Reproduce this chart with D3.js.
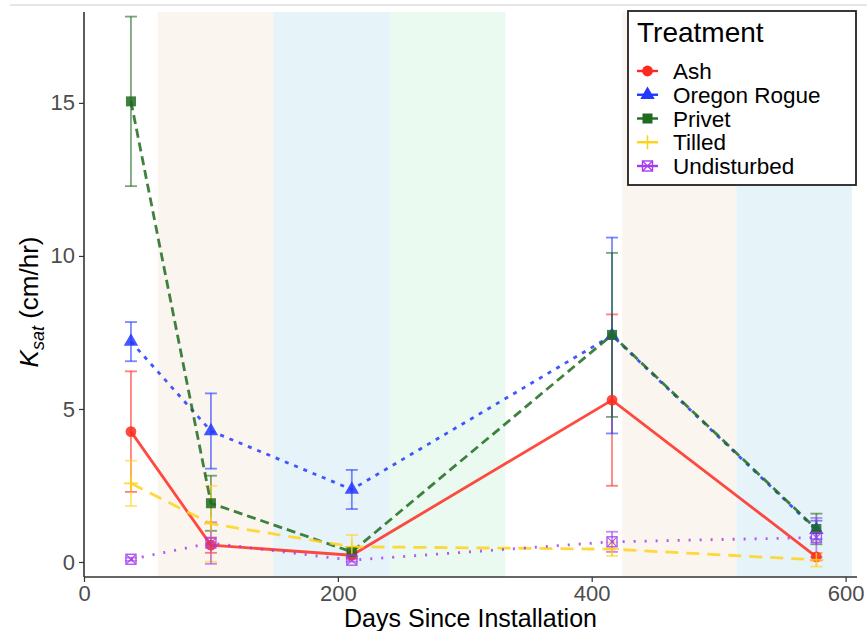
<!DOCTYPE html>
<html lang="en">
<head>
<meta charset="utf-8">
<title>Ksat by treatment</title>
<script src="https://d3js.org/d3.v7.min.js"></script>
<style>
  body { margin: 0; background: #fff; }
  svg { font-family: "Liberation Sans", Arial, sans-serif; }
</style>
</head>
<body>
<div id="chart"></div>
<script>
// sampling days
const days = [37, 100, 211, 416, 577];

// mean Ksat (cm/hr) and error half-widths, one array per treatment
const ashMean   = [4.26, 0.55, 0.22, 5.29, 0.17];
const ashErr    = [1.97, 0.25, 0.10, 2.80, 0.12];
const rogueMean = [7.20, 4.28, 2.37, 7.40, 1.05];
const rogueErr  = [0.64, 1.23, 0.64, 3.20, 0.30];
const privetMean = [15.05, 1.92, 0.33, 7.42, 1.08];
const privetErr  = [2.77, 0.90, 0.15, 2.68, 0.50];
const tilledMean = [2.57, 1.25, 0.50, 0.42, 0.07];
const tilledErr  = [0.74, 1.24, 0.38, 0.22, 0.22];
const undistMean = [0.09, 0.62, 0.06, 0.66, 0.80];
const undistErr  = [0.05, 0.68, 0.05, 0.33, 0.64];

// seasons shaded behind the data (start day, end day)
const seasonStart = [58, 149, 241, 424, 514];
const seasonEnd   = [149, 241, 332, 514, 605];
const seasonFill  = ["#fbf5f0", "#e6f4fa", "#eafaf0", "#fbf5f0", "#e6f4fa"];

const treatments = ["Ash", "Oregon Rogue", "Privet", "Tilled", "Undisturbed"];
const means = [ashMean, rogueMean, privetMean, tilledMean, undistMean];
const errs  = [ashErr, rogueErr, privetErr, tilledErr, undistErr];
const colors = ["#ff2a1f", "#2238ff", "#1f6b1f", "#ffd21a", "#a43cf0"];
const dashes = [null, "4,6", "9,5", "13,8", "2,9"];
const shapes = ["circle", "triangle", "square", "plus", "boxx"];

const xTicks = [0, 200, 400, 600];
const yTicks = [0, 5, 10, 15];

const width = 867, height = 631;
const svg = d3.select("#chart").append("svg")
    .attr("width", width).attr("height", height);

const x = d3.scaleLinear().domain([0, 609]).range([84, 857]);
const y = d3.scaleLinear().domain([-0.49, 17.97]).range([577, 12]);

// faint line at the very top
svg.append("line").attr("x1", 10).attr("x2", 867).attr("y1", 5).attr("y2", 5)
    .attr("stroke", "#e6e6e6").attr("stroke-width", 2);

svg.selectAll("rect.season")
    .data(seasonStart)
    .enter().append("rect")
    .attr("class", "season")
    .attr("x", d => x(d))
    .attr("y", y(17.97))
    .attr("width", (d, i) => x(seasonEnd[i]) - x(d))
    .attr("height", y(-0.49) - y(17.97))
    .attr("fill", (d, i) => seasonFill[i]);

// axes
const xAxis = svg.append("g").attr("transform", "translate(0," + y(-0.49) + ")")
    .call(d3.axisBottom(x).tickValues(xTicks).tickSize(5).tickPadding(3));
const yAxis = svg.append("g").attr("transform", "translate(" + x(0) + ",0)")
    .call(d3.axisLeft(y).tickValues(yTicks).tickSize(5).tickPadding(4));
[xAxis, yAxis].forEach(g => {
    g.select(".domain").attr("stroke", "#333").attr("stroke-width", 1.6);
    g.selectAll(".tick line").attr("stroke", "#333").attr("stroke-width", 1.2);
    g.selectAll(".tick text").attr("fill", "#4d4d4d").attr("font-size", 22)
        .attr("font-family", "Liberation Sans, Arial, sans-serif");
});
xAxis.select(".domain").attr("d", "M" + x(0) + ",0H" + x(609));
yAxis.select(".domain").attr("d", "M0," + y(17.97) + "V" + y(-0.49));

// error bars
const capW = 6;
treatments.forEach((t, k) => {
    const g = svg.append("g").attr("stroke", colors[k]).attr("stroke-opacity", 0.6)
        .attr("stroke-width", 1.8);
    days.forEach((d, i) => {
        const lo = y(means[k][i] - errs[k][i]), hi = y(means[k][i] + errs[k][i]);
        g.append("line").attr("x1", x(d)).attr("x2", x(d)).attr("y1", lo).attr("y2", hi);
        g.append("line").attr("x1", x(d) - capW).attr("x2", x(d) + capW).attr("y1", lo).attr("y2", lo);
        g.append("line").attr("x1", x(d) - capW).attr("x2", x(d) + capW).attr("y1", hi).attr("y2", hi);
    });
});

// lines
const line = d3.line().x((d, i) => x(days[i])).y(d => y(d));
treatments.forEach((t, k) => {
    svg.append("path").datum(means[k])
        .attr("d", line)
        .attr("fill", "none")
        .attr("stroke", colors[k])
        .attr("stroke-opacity", 0.85)
        .attr("stroke-width", 2.8)
        .attr("stroke-dasharray", dashes[k]);
});

function drawShape(g, shape, cx, cy, col) {
    if (shape === "circle") {
        g.append("circle").attr("cx", cx).attr("cy", cy).attr("r", 5.4).attr("fill", col);
    } else if (shape === "triangle") {
        g.append("path").attr("d", d3.symbol(d3.symbolTriangle, 90)())
            .attr("transform", "translate(" + cx + "," + cy + ")").attr("fill", col);
    } else if (shape === "square") {
        g.append("rect").attr("x", cx - 5).attr("y", cy - 5).attr("width", 10).attr("height", 10)
            .attr("fill", col);
    } else if (shape === "plus") {
        g.append("path").attr("d", `M${cx - 7},${cy}H${cx + 7}M${cx},${cy - 7}V${cy + 7}`)
            .attr("stroke", col).attr("stroke-width", 1.6);
    } else {
        g.append("rect").attr("x", cx - 5).attr("y", cy - 5).attr("width", 10).attr("height", 10)
            .attr("fill", "none").attr("stroke", col).attr("stroke-width", 1.4);
        g.append("path").attr("d", `M${cx - 5},${cy - 5}L${cx + 5},${cy + 5}M${cx + 5},${cy - 5}L${cx - 5},${cy + 5}`)
            .attr("stroke", col).attr("stroke-width", 1.2);
    }
}

// points
treatments.forEach((t, k) => {
    const g = svg.append("g").attr("opacity", 0.85);
    days.forEach((d, i) => drawShape(g, shapes[k], x(d), y(means[k][i]), colors[k]));
});

// axis titles
svg.append("text").attr("x", (x(0) + x(609)) / 2).attr("y", 627)
    .attr("text-anchor", "middle").attr("font-size", 25).attr("fill", "#000")
    .text("Days Since Installation");
const yt = svg.append("text").attr("transform", "translate(38,302) rotate(-90)")
    .attr("text-anchor", "middle").attr("font-size", 26).attr("fill", "#000");
yt.append("tspan").attr("font-style", "italic").text("K");
yt.append("tspan").attr("font-style", "italic").attr("font-size", 18).attr("dy", 6).text("sat");
yt.append("tspan").attr("dy", -6).text(" (cm/hr)");

// legend
const lg = svg.append("g");
lg.append("rect").attr("x", 628).attr("y", 11).attr("width", 228).attr("height", 174)
    .attr("fill", "#fff").attr("stroke", "#222").attr("stroke-width", 1.8);
lg.append("text").attr("x", 637).attr("y", 42).attr("font-size", 28).attr("fill", "#000")
    .text("Treatment");
const keyY = d3.scalePoint().domain(treatments).range([71, 166]);
treatments.forEach((t, k) => {
    const cy = keyY(t);
    lg.append("line").attr("x1", 637).attr("x2", 658).attr("y1", cy).attr("y2", cy)
        .attr("stroke", colors[k]).attr("stroke-width", 2.4);
    drawShape(lg, shapes[k], 647.5, cy, colors[k]);
    lg.append("text").attr("x", 673).attr("y", cy + 8).attr("font-size", 22.5).attr("fill", "#000")
        .text(t);
});
</script>
</body>
</html>
